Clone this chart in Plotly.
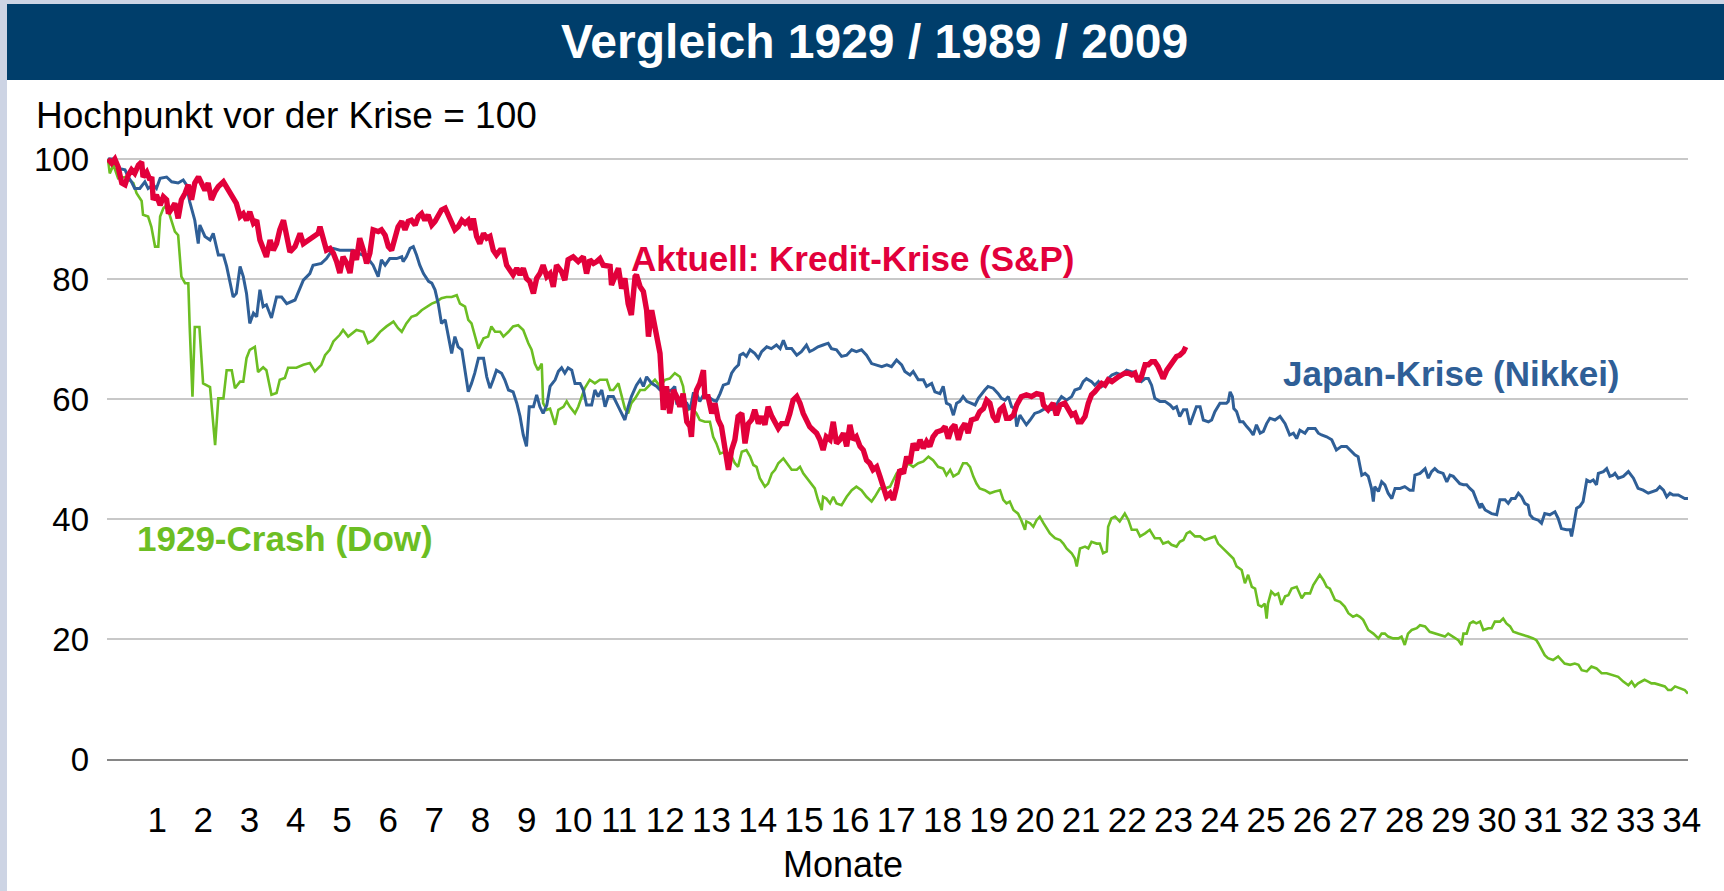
import plotly.graph_objects as go

# ---------------- data (month, index value; peak before crisis = 100) ----------------
DOW_1929 = [
    (0.0, 100), (0.04, 97.6), (0.12, 99), (0.22, 96.8), (0.37, 97), (0.55, 96), (0.62, 94.3), (0.73, 93),
    (0.76, 90.7), (0.87, 90.4), (0.94, 88.7), (1.02, 85.4), (1.09, 85.4), (1.13, 90.4), (1.20, 91.8),
    (1.27, 92.3), (1.38, 89.6), (1.45, 87.9), (1.52, 87.3), (1.59, 80.4), (1.67, 79.3), (1.74, 79.3),
    (1.77, 72), (1.83, 60.4), (1.88, 72), (1.98, 72), (2.06, 62.6), (2.14, 62.3), (2.21, 62), (2.32, 52.3),
    (2.39, 60.1), (2.50, 60.1), (2.57, 64.8), (2.68, 64.8), (2.75, 61.8), (2.86, 62.9), (2.93, 62.9),
    (3.00, 66.8), (3.07, 68.2), (3.18, 68.7), (3.25, 64.5), (3.36, 65.3), (3.43, 64.8), (3.54, 60.7),
    (3.65, 61), (3.72, 63.2), (3.83, 63.5), (3.90, 65.2), (4.08, 65.2), (4.23, 65.7), (4.37, 66),
    (4.48, 64.6), (4.62, 65.7), (4.70, 67.3), (4.80, 68.2), (4.88, 69.6), (5.02, 70.7), (5.09, 71.5),
    (5.20, 70.4), (5.38, 71.5), (5.53, 71.2), (5.63, 69.3), (5.74, 69.8), (5.89, 71.2),
    (6.03, 72.1), (6.18, 72.9), (6.28, 71.8), (6.36, 71.2), (6.46, 72.6), (6.57, 73.7), (6.68, 74),
    (6.79, 74.8), (6.90, 75.4), (7.01, 75.9), (7.11, 76.2), (7.22, 76.8), (7.33, 77), (7.44, 77),
    (7.55, 77.3), (7.62, 75.9), (7.73, 75.4), (7.80, 73.2), (7.87, 72.6), (7.94, 70.4), (8.02, 68.4),
    (8.13, 70.1), (8.23, 70.4), (8.30, 72.1), (8.38, 71.2), (8.49, 71.2), (8.56, 70.4), (8.67, 71.2),
    (8.77, 72.1), (8.88, 72.3), (8.99, 71.5), (9.10, 69.3), (9.17, 68.2), (9.24, 65.9), (9.31, 64.8),
    (9.39, 65.9), (9.42, 59.3), (9.50, 58.2), (9.57, 58.4), (9.68, 55.7), (9.75, 58.2), (9.86, 58.7),
    (9.93, 59.6), (10.0, 58.7), (10.11, 57.6), (10.18, 58.7), (10.25, 60.1), (10.32, 61.8), (10.43, 63.2),
    (10.54, 62.6), (10.65, 63.2), (10.80, 63.2), (10.87, 61.5), (10.94, 61.5), (11.05, 62.6), (11.12, 60.4),
    (11.19, 58.4), (11.26, 57.6), (11.33, 59.3), (11.41, 60.1), (11.52, 61.5), (11.62, 61.5), (11.73, 62.3),
    (11.84, 63.2),
    (11.95, 62.1), (12.06, 63.2), (12.16, 63.4), (12.27, 64.3), (12.38, 63.7), (12.45, 62.1), (12.49, 59.8),
    (12.56, 58.2), (12.63, 58.7), (12.74, 57.6), (12.81, 56.5), (12.92, 56.2), (13.03, 56.2), (13.10, 53.7),
    (13.17, 52.6), (13.25, 50.9), (13.35, 51.2), (13.43, 50.9), (13.50, 50.4), (13.57, 49.3), (13.64, 48.7),
    (13.72, 51.2), (13.82, 51.5), (13.90, 50.4), (13.97, 49), (14.04, 48.7), (14.11, 46.8), (14.22, 45.4),
    (14.29, 45.9), (14.37, 47.6), (14.44, 48.2), (14.51, 49.3), (14.62, 50.1), (14.69, 49.3), (14.80, 48.2),
    (14.91, 48.2), (14.98, 48.7), (15.05, 47.6), (15.16, 46.5), (15.23, 45.9), (15.30, 45.1), (15.37, 43.2),
    (15.45, 41.5), (15.48, 43.7), (15.55, 43.4), (15.63, 42.6), (15.70, 43.7), (15.77, 42.6), (15.88, 42.3),
    (15.99, 43.7), (16.10, 44.8), (16.20, 45.4), (16.31, 44.8), (16.42, 43.7), (16.53, 42.9), (16.60, 43.7),
    (16.71, 45.1), (16.82, 45.1), (16.93, 45.4), (17.00, 46.5), (17.07, 47.6), (17.14, 48.2), (17.25, 48.2),
    (17.32, 49.3), (17.43, 48.7), (17.54, 49.3), (17.65, 49.6), (17.76, 50.4), (17.86, 49.8), (17.97, 48.7),
    (18.08, 48.4), (18.15, 47.3), (18.23, 48.2), (18.30, 47.1), (18.41, 47.6), (18.51, 49.3), (18.59, 49.3),
    (18.66, 48.7), (18.73, 47.1), (18.80, 45.9), (18.87, 45.1), (18.98, 44.8), (19.09, 44.3), (19.20, 44.6),
    (19.31, 44.8), (19.38, 43.2), (19.45, 42.6), (19.52, 42.9), (19.60, 41.5), (19.70, 40.9), (19.77, 39.8),
    (19.85, 38.2), (19.88, 39.6), (19.96, 39.3), (20.03, 38.7), (20.10, 39.8), (20.17, 40.4), (20.25, 39.3),
    (20.32, 38.4), (20.39, 37.6), (20.50, 36.8), (20.61, 36.5), (20.68, 35.9), (20.75, 35.1), (20.86, 34.3),
    (20.93, 33.4), (20.97, 32.1), (21.04, 35.1), (21.15, 35.4), (21.22, 35.1), (21.29, 36.2), (21.40, 35.9),
    (21.47, 35.9), (21.54, 34.3), (21.62, 34.6), (21.65, 38.7), (21.72, 40.1), (21.80, 40.4), (21.90, 39.6),
    (22.01, 40.9), (22.09, 39.8), (22.16, 38.2), (22.27, 38.2), (22.34, 37.1), (22.45, 37.6), (22.55, 38.2),
    (22.66, 36.8), (22.77, 36.8), (22.84, 35.9), (22.95, 36.2), (23.02, 35.7), (23.13, 35.4), (23.20, 36.2),
    (23.28, 36.5), (23.35, 37.6), (23.42, 37.9), (23.53, 37.1), (23.64, 37.1), (23.74, 36.5), (23.85, 36.8),
    (23.96, 37.1), (24.03, 35.9), (24.14, 35.1), (24.25, 34.3), (24.36, 33.4), (24.43, 32.1),
    (24.54, 31.5), (24.61, 29.3), (24.68, 30.7), (24.76, 28.7), (24.83, 28.4), (24.90, 25.7), (24.97, 25.4),
    (25.04, 25.9), (25.08, 23.4), (25.11, 25.9), (25.18, 27.9), (25.26, 27.3), (25.33, 27.6), (25.40, 25.7),
    (25.48, 27.1), (25.55, 27.3), (25.62, 28.4), (25.73, 28.7), (25.84, 26.8), (25.91, 27.6), (26.02, 27.6),
    (26.09, 29), (26.16, 29.8), (26.23, 30.7), (26.31, 29.8), (26.38, 28.7), (26.45, 28.4), (26.56, 26.5),
    (26.67, 26.2), (26.77, 25.4), (26.85, 24.3), (26.95, 23.7), (27.03, 24), (27.10, 23.7), (27.17, 23.2),
    (27.28, 21.5), (27.39, 20.9), (27.50, 20.1), (27.57, 20.9), (27.64, 20.9), (27.71, 20.4), (27.82, 20.1),
    (27.93, 20.1), (28.00, 20.4), (28.07, 19), (28.14, 20.9), (28.22, 21.5), (28.33, 21.8), (28.40, 22.3),
    (28.51, 22.1), (28.61, 21.2), (28.72, 20.9),
    (28.83, 20.7), (28.94, 20.4), (29.01, 20.9), (29.12, 20.4), (29.23, 19.8), (29.30, 19), (29.34, 20.9),
    (29.41, 20.9), (29.48, 22.6), (29.55, 22.9), (29.62, 22.6), (29.70, 22.9), (29.77, 21.5), (29.88, 21.8),
    (29.95, 21.8), (30.02, 22.9), (30.13, 22.9), (30.20, 23.4), (30.27, 22.6), (30.35, 22.1), (30.42, 21.2),
    (30.53, 20.9), (30.63, 20.7), (30.74, 20.4), (30.85, 20.1), (30.92, 19.8), (30.96, 19.3), (31.03, 18.4),
    (31.10, 17.3), (31.17, 16.8), (31.28, 16.5), (31.39, 17.1), (31.46, 16.5), (31.53, 15.9), (31.65, 15.7),
    (31.75, 15.9), (31.83, 15.7), (31.90, 14.8), (32.01, 14.6), (32.11, 15.4), (32.22, 15.1), (32.33, 14.3),
    (32.44, 14.3), (32.58, 14), (32.69, 13.7), (32.80, 12.9), (32.91, 12.3), (32.98, 12.9), (33.05, 12.1),
    (33.12, 12.6), (33.19, 12.9), (33.26, 13.2), (33.34, 12.9), (33.41, 12.6), (33.48, 12.6), (33.59, 12.3),
    (33.70, 12.1), (33.77, 11.5), (33.84, 11.5), (33.92, 12.1), (34.03, 11.8), (34.13, 11.5), (34.20, 10.9),
]

NIKKEI_1989 = [
    (0.0, 100), (0.12, 100), (0.19, 99.3), (0.26, 98.4), (0.37, 98.2), (0.44, 97), (0.51, 96.2), (0.58, 95.1),
    (0.69, 95.1), (0.80, 96.2), (0.87, 95.1), (0.98, 95.7), (1.05, 95.1), (1.13, 96.8), (1.27, 97),
    (1.38, 96.2), (1.52, 96), (1.63, 96.5), (1.70, 95.7), (1.77, 92.9), (1.88, 89.8), (1.955, 85.9),
    (1.99, 89), (2.10, 87.1), (2.21, 86.5), (2.28, 87.6), (2.39, 84), (2.50, 84), (2.57, 82.1), (2.64, 79.3),
    (2.71, 77), (2.78, 77.6), (2.86, 82.1), (2.93, 80.4), (3.00, 77.6), (3.07, 72.6), (3.15, 74.3),
    (3.22, 73.7), (3.29, 78.2), (3.36, 75.4), (3.43, 75.7), (3.54, 73.5), (3.65, 77), (3.76, 77),
    (3.87, 75.9), (4.05, 76.5), (4.12, 77.8), (4.23, 79.8), (4.37, 80.9), (4.44, 82.3), (4.62, 82.6),
    (4.73, 83.4), (4.88, 85.1), (5.02, 84.8), (5.31, 84.8), (5.42, 84.3), (5.60, 83.7), (5.74, 82.3),
    (5.85, 80.4),
    (5.92, 83.2), (6.00, 82.3), (6.10, 83.4), (6.25, 83.4), (6.36, 83.7), (6.39, 82.9), (6.46, 83.7),
    (6.54, 85.1), (6.61, 85.4), (6.68, 84), (6.75, 82.3), (6.83, 80.9), (6.94, 79.6), (7.01, 79.3),
    (7.08, 78.2), (7.15, 75.9), (7.22, 72.6), (7.30, 73.2), (7.37, 70.4), (7.44, 67.6), (7.51, 70.4),
    (7.58, 68.7), (7.66, 68.2), (7.73, 64.8), (7.80, 61.2), (7.87, 62.6), (7.94, 64.3), (8.02, 66.8),
    (8.13, 66.8), (8.20, 63.7), (8.27, 61.8), (8.34, 63.2), (8.41, 64.8), (8.52, 64.3), (8.59, 63.2),
    (8.67, 61.5), (8.77, 61.2), (8.85, 59.3), (8.92, 57.1), (8.99, 54), (9.06, 52.1), (9.12, 58.7),
    (9.21, 58.7), (9.28, 60.7), (9.35, 58.7), (9.42, 57.6), (9.50, 59), (9.57, 62.1), (9.68, 63.2),
    (9.75, 64.6), (9.82, 65.2), (9.89, 64.3), (9.96, 65.2), (10.04, 64.8), (10.11, 62.6), (10.22, 62.6),
    (10.29, 61.5), (10.36, 59), (10.47, 59), (10.54, 61.5), (10.61, 60.4), (10.69, 61.5), (10.76, 58.7),
    (10.83, 60.4), (10.94, 60.4), (11.05, 58.7), (11.12, 57.6), (11.19, 56.5), (11.26, 58.7), (11.33, 60.4),
    (11.44, 62.3), (11.52, 63.2), (11.59, 62.1), (11.66, 63.7), (11.77, 62.6), (11.88, 62.1),
    (11.95, 61.5), (12.09, 61.2), (12.20, 61.5), (12.27, 62.1), (12.31, 59.3), (12.38, 59.3), (12.45, 59.8),
    (12.53, 59.3), (12.60, 58.2), (12.67, 60.9), (12.74, 60.9), (12.81, 59.6), (12.89, 60.7), (12.99, 60.4),
    (13.10, 59.8), (13.17, 59.6), (13.25, 60.9), (13.32, 62.3), (13.43, 62.6), (13.50, 64.3), (13.57, 65.1),
    (13.65, 65.7), (13.68, 67.3), (13.75, 67.6), (13.82, 67.1), (13.90, 68.2), (14.00, 67.6), (14.08, 66.8),
    (14.15, 67.9), (14.26, 68.7), (14.36, 68.4), (14.47, 69), (14.55, 68.4), (14.62, 69.8), (14.69, 68.4),
    (14.80, 68.4), (14.91, 67.3), (15.01, 67.9), (15.12, 69), (15.19, 67.9), (15.27, 68.2), (15.37, 68.7),
    (15.48, 69), (15.59, 69.3), (15.66, 68.4), (15.77, 68.2), (15.88, 67.1), (15.99, 67.3), (16.10, 68.2),
    (16.20, 67.9), (16.31, 68.2), (16.42, 67.3), (16.53, 65.9), (16.64, 65.7), (16.75, 65.4), (16.86, 65.7),
    (16.96, 65.4), (17.07, 66.5), (17.18, 65.7), (17.25, 64.6), (17.36, 64), (17.43, 64.6), (17.54, 63.2),
    (17.65, 63.2), (17.72, 62.1), (17.83, 62.6), (17.90, 61.2),
    (18.01, 60.9), (18.08, 62.1), (18.15, 59.3), (18.23, 59), (18.30, 57.3), (18.37, 59.3), (18.44, 59.6),
    (18.51, 60.4), (18.59, 59.6), (18.69, 59.3), (18.77, 59), (18.84, 60.1), (18.91, 60.9), (18.98, 61.5),
    (19.05, 62.1), (19.16, 61.8), (19.27, 60.9), (19.34, 60.1), (19.42, 59.8), (19.49, 60.4), (19.56, 58.7),
    (19.63, 58.4), (19.67, 55.4), (19.74, 57.3), (19.81, 56.5), (19.88, 55.7), (19.96, 56.5), (20.06, 57.6),
    (20.17, 57.9), (20.28, 58.4), (20.39, 58.2), (20.50, 58.4), (20.57, 59.6), (20.64, 60.4), (20.75, 59.8),
    (20.86, 60.4), (20.93, 61.5), (21.04, 61.8), (21.11, 62.9), (21.18, 63.4), (21.29, 62.9), (21.36, 62.3),
    (21.44, 62.9), (21.51, 62.1), (21.58, 62.6), (21.65, 63.4), (21.73, 64), (21.83, 64.3), (21.94, 64),
    (22.05, 64.8), (22.16, 64.5), (22.23, 64.5), (22.30, 63.4), (22.37, 62.9), (22.45, 63.4), (22.52, 63.4),
    (22.59, 62.3), (22.66, 60.1), (22.77, 59.6), (22.88, 59.6), (22.99, 59), (23.06, 58.4), (23.13, 58.7),
    (23.20, 57.1), (23.28, 58.2), (23.35, 58.2), (23.42, 55.7), (23.49, 57.1), (23.56, 58.7), (23.64, 58.7),
    (23.71, 56.5), (23.82, 56.2), (23.89, 56.5), (23.96, 57.9), (24.07, 59.3), (24.21, 59.3),
    (24.25, 59.6), (24.29, 61.2), (24.34, 60.4), (24.37, 58.4), (24.43, 57.9), (24.50, 56.2), (24.57, 56.2),
    (24.65, 55.4), (24.72, 54.8), (24.79, 54), (24.86, 55.7), (24.94, 54.3), (25.01, 54.6), (25.08, 55.9),
    (25.15, 56.8), (25.26, 56.5), (25.37, 57.1), (25.48, 55.9), (25.58, 54), (25.66, 54.3), (25.73, 53.4),
    (25.80, 54.8), (25.91, 54.3), (25.98, 55.1), (26.13, 55.1), (26.20, 54.3), (26.27, 54), (26.38, 53.7),
    (26.49, 53.2), (26.59, 51.5), (26.70, 52.1), (26.81, 52.1), (26.92, 51.2), (26.99, 50.7), (27.06, 50.4),
    (27.14, 47.3), (27.21, 47.6), (27.28, 47.1), (27.35, 45.1), (27.39, 42.9), (27.42, 45.4), (27.50, 44.6),
    (27.57, 46.2), (27.64, 45.7), (27.71, 44.3), (27.79, 43.4), (27.86, 45.1), (27.97, 45.1), (28.07, 45.4),
    (28.18, 44.8), (28.25, 44.8), (28.29, 47.3), (28.40, 47.6), (28.51, 48.4), (28.58, 46.8), (28.65, 47.9),
    (28.72, 48.4), (28.79, 47.9),
    (28.90, 47.6), (28.98, 46.2), (29.05, 47.3), (29.12, 47.1), (29.19, 46.5), (29.26, 45.9), (29.34, 45.7),
    (29.41, 45.7), (29.48, 45.1), (29.55, 44.6), (29.62, 43.2), (29.70, 41.8), (29.73, 42.6), (29.81, 41.5),
    (29.88, 41.2), (29.95, 40.9), (30.06, 40.7), (30.13, 43.2), (30.24, 43.2), (30.31, 42.6), (30.38, 43.4),
    (30.46, 43.4), (30.53, 44.3), (30.60, 43.7), (30.67, 42.6), (30.74, 42.3), (30.78, 40.7), (30.85, 40.1),
    (30.96, 39.8), (31.03, 39.3), (31.10, 40.9), (31.21, 40.7), (31.32, 41.2), (31.39, 40.1), (31.46, 38.4),
    (31.57, 38.2), (31.65, 38.2), (31.68, 37.1), (31.72, 38.7), (31.79, 41.8), (31.86, 42.1), (31.93, 42.9),
    (32.01, 46.5), (32.08, 46.2), (32.15, 46.5), (32.22, 45.7), (32.26, 47.6), (32.37, 47.9), (32.44, 48.4),
    (32.51, 47.1), (32.58, 47.3), (32.62, 47.6), (32.69, 46.8), (32.80, 47.1), (32.91, 47.9), (33.02, 46.8),
    (33.12, 45.1), (33.23, 44.8), (33.34, 44.3), (33.45, 44.6), (33.52, 44.8), (33.59, 45.4), (33.67, 44.8),
    (33.74, 43.7), (33.81, 44.3), (33.88, 44), (33.99, 44), (34.06, 43.7), (34.13, 43.4), (34.20, 43.4),
]

SP_2007 = [
    (0.0, 100), (0.08, 99.3), (0.15, 100), (0.22, 98.7), (0.30, 96), (0.37, 95.7), (0.44, 97.3), (0.51, 98.2),
    (0.58, 97.6), (0.66, 99), (0.73, 99.5), (0.76, 97), (0.84, 97.8), (0.91, 96.5), (0.95, 97), (0.98, 93.2),
    (1.05, 94), (1.13, 92.3), (1.20, 93.7), (1.27, 93.2), (1.31, 90.9), (1.38, 91.8), (1.45, 92.6),
    (1.52, 90.1), (1.59, 93.2), (1.67, 94.3), (1.74, 95.7), (1.81, 93.2), (1.88, 96), (1.96, 97), (2.03, 96),
    (2.10, 94.8), (2.17, 96), (2.24, 93.2), (2.32, 94.6), (2.39, 95.4), (2.50, 96.2), (2.60, 94.8),
    (2.71, 93.7), (2.78, 92.6), (2.86, 90.4), (2.93, 90.9), (3.00, 89.8), (3.07, 91.2), (3.15, 89.3),
    (3.22, 89.8), (3.29, 86.5), (3.36, 85.1), (3.43, 83.7), (3.51, 86.5), (3.58, 84.8), (3.65, 85.9),
    (3.72, 88.2), (3.80, 89.8), (3.87, 87.6), (3.94, 84.5), (4.05, 85.4), (4.16, 87.6), (4.23, 85.9),
    (4.34, 86.5), (4.44, 86.8), (4.55, 87.6), (4.59, 88.7), (4.66, 86.8), (4.73, 84.8), (4.81, 85.1),
    (4.88, 84.3), (4.95, 82.9), (5.02, 81), (5.09, 83.7), (5.17, 82.6), (5.24, 81), (5.31, 84.8),
    (5.38, 83.2), (5.45, 86.8), (5.53, 84.8), (5.60, 82.6), (5.67, 84.3), (5.74, 88.2),
    (5.85, 87.9), (5.92, 88.2), (6.00, 87.3), (6.07, 85.4), (6.14, 84.8), (6.21, 86.8), (6.28, 88.7),
    (6.36, 89.6), (6.43, 88.2), (6.50, 89.6), (6.57, 89.8), (6.65, 89), (6.72, 90.4), (6.79, 90.9),
    (6.86, 89.8), (6.93, 90.7), (7.01, 89), (7.08, 89.6), (7.15, 90.7), (7.22, 91.5), (7.30, 91.8),
    (7.37, 90.4), (7.44, 89), (7.51, 88.2), (7.58, 88.7), (7.66, 89.8), (7.73, 89.3), (7.80, 89.8),
    (7.87, 88.2), (7.91, 90.1), (7.98, 87.1), (8.05, 85.9), (8.13, 87.6), (8.20, 86.8), (8.27, 87.1),
    (8.34, 84.8), (8.41, 84), (8.49, 84.8), (8.56, 84.8), (8.63, 82.3), (8.70, 81.5), (8.77, 80.7),
    (8.85, 81.8), (8.92, 80.7), (8.99, 81.8), (9.06, 80.1), (9.13, 79.6), (9.21, 77.6), (9.28, 80.1),
    (9.35, 80.9), (9.42, 82.3), (9.50, 80.4), (9.57, 80.9), (9.64, 78.7), (9.71, 82.3), (9.82, 81.2),
    (9.89, 79.8), (9.96, 83.2), (10.07, 83.7), (10.18, 82.9), (10.29, 83.7), (10.36, 80.9), (10.43, 83.2),
    (10.51, 82.6), (10.58, 82.9), (10.65, 83.4), (10.72, 82.3), (10.80, 82.3), (10.87, 82.1), (10.90, 79),
    (10.97, 80.1), (11.05, 81.8), (11.12, 78.4), (11.19, 80.1), (11.26, 75.9), (11.33, 74), (11.41, 80.4),
    (11.44, 80.7), (11.52, 78.7), (11.59, 77.9), (11.66, 74.8), (11.70, 70.4), (11.77, 74.8), (11.84, 72),
    (11.88, 69.8),
    (11.95, 67.6), (11.98, 63.7), (12.02, 58.2), (12.09, 62.1), (12.16, 57.6), (12.24, 61.5), (12.31, 60.4),
    (12.38, 58.7), (12.45, 60.9), (12.53, 56.2), (12.60, 55.4), (12.63, 53.7), (12.67, 58.2), (12.74, 61.5),
    (12.81, 62.6), (12.89, 64.8), (12.92, 60.4), (12.99, 60.4), (13.07, 57.6), (13.14, 59.3), (13.21, 56.5),
    (13.28, 55.4), (13.35, 52.1), (13.43, 48.2), (13.50, 51.5), (13.57, 53.2), (13.64, 57.1), (13.72, 57.6),
    (13.79, 52.6), (13.86, 55.9), (13.93, 56.5), (14.00, 58.2), (14.08, 55.9), (14.15, 57.1), (14.22, 55.7),
    (14.29, 58.7), (14.37, 57.1), (14.44, 56.2), (14.51, 55.1), (14.58, 55.9), (14.69, 55.9), (14.76, 57.6),
    (14.83, 59.8), (14.91, 60.4), (14.98, 59.3), (15.05, 57.6), (15.12, 56.5), (15.19, 55.4), (15.27, 54.8),
    (15.34, 54.3), (15.41, 53.2), (15.48, 51.5), (15.55, 53.7), (15.63, 53.2), (15.70, 56.2), (15.77, 52.6),
    (15.84, 53.2), (15.92, 54.3), (15.99, 52.1), (16.06, 55.7), (16.13, 53.2), (16.20, 53.7), (16.28, 52.1),
    (16.35, 51.5), (16.42, 49.8), (16.49, 49.3), (16.56, 48.2), (16.64, 48.7), (16.71, 47.1), (16.78, 45.4),
    (16.85, 43.7), (16.93, 44.3), (17.00, 43.2), (17.07, 45.4), (17.14, 48.2), (17.22, 47.6), (17.29, 50.4),
    (17.36, 49.3), (17.43, 52.6), (17.50, 51.5), (17.58, 53.2), (17.65, 51.8), (17.72, 52.9), (17.79, 52.1),
    (17.86, 53.7), (17.94, 54.5),
    (18.05, 54.8), (18.12, 55.4), (18.19, 53.4), (18.26, 55.1), (18.33, 55.7), (18.41, 53.2), (18.48, 55.1),
    (18.55, 55.9), (18.62, 54.3), (18.69, 56.5), (18.80, 56.8), (18.87, 57.9), (18.95, 58.4), (19.02, 59.8),
    (19.09, 59.3), (19.16, 57.1), (19.24, 56.2), (19.31, 58.2), (19.38, 58.7), (19.45, 56.8), (19.52, 56.8),
    (19.60, 57.3), (19.67, 59), (19.77, 60.4), (19.88, 60.7), (19.99, 60.4), (20.10, 60.9), (20.21, 60.7),
    (20.25, 59), (20.35, 58.2), (20.46, 59.3), (20.53, 57.3), (20.61, 59), (20.71, 59.3), (20.78, 58.2),
    (20.86, 57.3), (20.93, 57.6), (21.00, 56.2), (21.07, 56.2), (21.15, 57.1), (21.22, 59.3), (21.29, 60.7),
    (21.36, 61.2), (21.44, 61.8), (21.51, 62.6), (21.58, 62.3), (21.65, 63.2), (21.73, 62.9), (21.80, 63.4),
    (21.87, 63.7), (21.94, 64), (22.01, 64.3), (22.09, 64.3), (22.16, 64), (22.23, 64.3), (22.30, 62.9),
    (22.37, 63.7), (22.45, 65.7), (22.52, 65.7), (22.59, 66.2), (22.66, 66.2), (22.73, 65.4), (22.81, 64),
    (22.84, 63.4), (22.92, 64.8), (22.99, 65.7), (23.06, 66.2), (23.13, 67.1), (23.20, 67.3), (23.28, 67.9),
    (23.33, 68.7),
]

MONTH_TICKS = list(range(1, 35))
Y_TICKS = [0, 20, 40, 60, 80, 100]

TITLE = "Vergleich 1929 / 1989 / 2009"
SUBTITLE = "Hochpunkt vor der Krise = 100"
X_TITLE = "Monate"
LABEL_SP = "Aktuell: Kredit-Krise (S&P)"
LABEL_NIKKEI = "Japan-Krise (Nikkei)"
LABEL_DOW = "1929-Crash (Dow)"

# ---------------- styling / geometry ----------------
W, H = 1724, 891
ML, MR, MT, MB = 107, 36, 147, 132
PW, PH = W - ML - MR, H - MT - MB
FONT = "Liberation Sans, Arial, Helvetica, sans-serif"
RED, BLUE, GREEN = "#E2003B", "#2F5F97", "#6CBE23"
NAVY = "#003E6B"
FRAME = "#CDD4E4"


def px_x(px):
    return (px - ML) / PW


def px_y(py):
    return (H - MB - py) / PH


fig = go.Figure()
for series, color, width in [(DOW_1929, GREEN, 2.6), (NIKKEI_1989, BLUE, 3.0), (SP_2007, RED, 5.4)]:
    xs = [p[0] for p in series]
    ys = [p[1] for p in series]
    fig.add_trace(go.Scatter(x=xs, y=ys, mode="lines",
                             line=dict(color=color, width=width, shape="linear"),
                             hoverinfo="skip"))

shapes = [
    # white card
    dict(type="rect", xref="paper", yref="paper", x0=px_x(7), x1=px_x(W + 5), y0=px_y(H + 5), y1=px_y(80),
         fillcolor="white", line=dict(width=0), layer="below"),
    # title bar
    dict(type="rect", xref="paper", yref="paper", x0=px_x(7), x1=px_x(W + 5), y0=px_y(80), y1=px_y(4),
         fillcolor=NAVY, line=dict(width=0), layer="below"),
]

annotations = [
    dict(text=f"<b>{TITLE}</b>", xref="paper", yref="paper", x=px_x(874), y=px_y(42),
         xanchor="center", yanchor="middle", showarrow=False,
         font=dict(family=FONT, size=48, color="white")),
    dict(text=SUBTITLE, xref="paper", yref="paper", x=px_x(34), y=px_y(116),
         xanchor="left", yanchor="middle", showarrow=False,
         font=dict(family=FONT, size=37, color="black")),
    dict(text=X_TITLE, xref="paper", yref="paper", x=px_x(843), y=px_y(864),
         xanchor="center", yanchor="middle", showarrow=False,
         font=dict(family=FONT, size=36, color="black")),
    dict(text=f"<b>{LABEL_SP}</b>", xref="paper", yref="paper", x=px_x(629), y=px_y(258),
         xanchor="left", yanchor="middle", showarrow=False,
         font=dict(family=FONT, size=35, color=RED)),
    dict(text=f"<b>{LABEL_NIKKEI}</b>", xref="paper", yref="paper", x=px_x(1281), y=px_y(373),
         xanchor="left", yanchor="middle", showarrow=False,
         font=dict(family=FONT, size=35, color=BLUE)),
    dict(text=f"<b>{LABEL_DOW}</b>", xref="paper", yref="paper", x=px_x(135), y=px_y(538),
         xanchor="left", yanchor="middle", showarrow=False,
         font=dict(family=FONT, size=35, color=GREEN)),
]

fig.update_layout(
    width=W, height=H,
    margin=dict(l=ML, r=MR, t=MT, b=MB, pad=0),
    paper_bgcolor=FRAME,
    plot_bgcolor="rgba(0,0,0,0)",
    showlegend=False,
    shapes=shapes,
    annotations=annotations,
    xaxis=dict(range=[-0.02, -0.02 + PW / 46.2], tickmode="array", tickvals=MONTH_TICKS,
               ticktext=[str(m) for m in MONTH_TICKS], showgrid=False, zeroline=False,
               showline=True, linecolor="#868686", linewidth=2, ticks="",
               tickfont=dict(family=FONT, size=35, color="black"), ticklabelstandoff=29,
               ticklabelshift=3, fixedrange=True),
    yaxis=dict(range=[0, 102], tickmode="array", tickvals=Y_TICKS,
               ticktext=[str(v) for v in Y_TICKS], showgrid=True, gridcolor="#C8C8C8", gridwidth=1.6,
               zeroline=False, showline=False, ticks="",
               tickfont=dict(family=FONT, size=33, color="black"), ticklabelstandoff=17,
               fixedrange=True),
)

fig.write_html(
    "out.html",
    config={"displayModeBar": False},
    post_script="document.body.style.margin='0';document.body.style.padding='0';"
                "document.body.style.overflow='hidden';"
                "document.documentElement.style.background='%s';" % FRAME,
)
